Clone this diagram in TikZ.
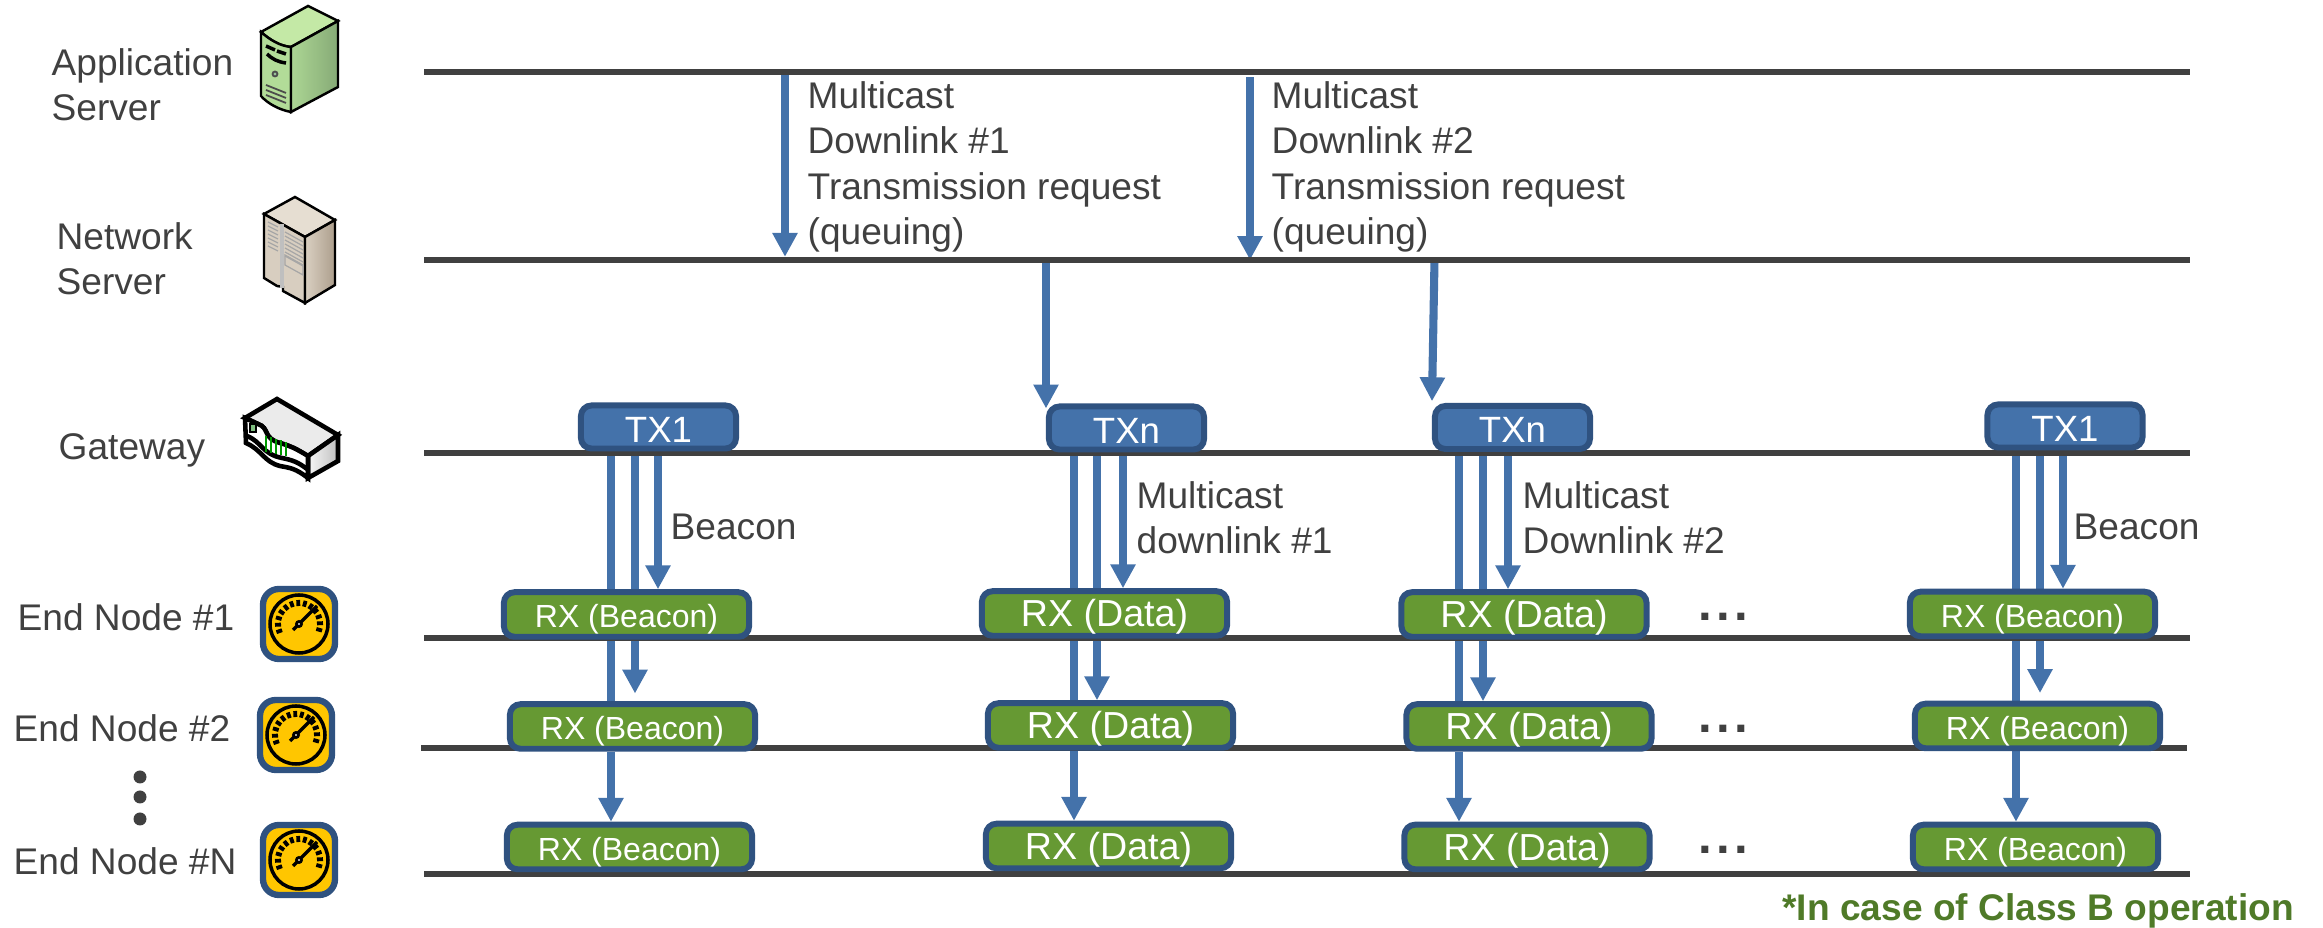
\documentclass[tikz,border=0pt]{standalone}
\usepackage{fontspec}
\setmainfont{Liberation Sans}
\usepackage{xcolor}
\usetikzlibrary{arrows.meta,backgrounds}
\definecolor{line_dark}{HTML}{404040}
\definecolor{sig_blue}{HTML}{4472AA}
\definecolor{box_border}{HTML}{2F5280}
\definecolor{rx_green}{HTML}{669933}
\definecolor{note_green}{HTML}{4F7A28}
\definecolor{gauge_yellow}{HTML}{FFC600}
\tikzset{
	lbl/.style={anchor=base west, align=left, inner sep=0pt, text=line_dark, font=\fontsize{10.55}{12.9}\selectfont},
	level/.style={line_dark, line width=1.8pt},
	sig/.style={sig_blue, line width=2.3pt},
	sigtip/.style={sig, -{Triangle[length=6.8pt,width=6.8pt]}},
	rxbox/.style={draw=box_border, fill=rx_green, line width=1.7pt, rounded corners=3pt, inner sep=0pt, text=white,
		minimum width=2.45cm, minimum height=0.445cm, text height=0.33cm, text depth=0.07cm, font=\fontsize{#1}{#1}\selectfont},
	txbox/.style={draw=box_border, fill=sig_blue, line width=1.7pt, rounded corners=3pt, inner sep=0pt, text=white,
		minimum width=1.55cm, minimum height=0.43cm, text height=0.35cm, text depth=0.05cm, font=\fontsize{10.4}{10.4}\selectfont},
	more/.style={anchor=base, inner sep=0pt, text=line_dark, font=\bfseries\fontsize{14}{14}\selectfont},
	gauge/.pic={
		\draw [box_border, fill=gauge_yellow, line width=1.8pt, rounded corners=4.5pt] (-36,-35) rectangle (36,35);
		\draw [black, line width=1pt] (0,0) circle (29);
		\foreach \a in {-200,-182,...,20} {
			\draw [black, line width=1.1pt] (\a:18) -- (\a:24);
		}
		\draw [black, line width=1pt] (-6,6) -- (18,-18);
		\draw [black, fill=white, line width=0.8pt] (0,0) circle (2.5);
	}
}
\begin{document}
\begin{tikzpicture}[x=0.01cm, y=-0.01cm]
	\useasboundingbox (0,0) rectangle (2323,928);

	\node [lbl] (appserver) at (51,121) {Application\\Server};
	\node [lbl] (netserver) at (56,294.5) {Network\\Server};
	\node [lbl] (gateway) at (58,459.5) {Gateway};
	\node [lbl] (endnode1) at (17,631) {End Node \#1};
	\node [lbl] (endnode2) at (13,741.5) {End Node \#2};
	\node [lbl] (endnodeN) at (13,875) {End Node \#N};
	\foreach \y in {777,797,819} {
		\fill [line_dark] (140,\y) circle (6.5);
	}

	\pic at (299,624) {gauge};
	\pic at (296,735) {gauge};
	\pic at (299,860) {gauge};

	% application server
	\draw [black, line width=0.7pt, fill={rgb,255:red,196;green,233;blue,166}] (261,32) -- (308,6) -- (338,21) -- (291,47) .. controls (280,46) and (270,40) .. (261,32) -- cycle;
	\draw [black, line width=0.7pt, fill={rgb,255:red,178;green,220;blue,152}] (261,32) .. controls (270,40) and (280,46) .. (291,47) -- (291,112) .. controls (280,110) and (268,104) .. (261,96) -- cycle;
	\draw [black, line width=0.7pt, left color={rgb,255:red,172;green,214;blue,148}, right color={rgb,255:red,134;green,170;blue,118}] (291,47) -- (338,21) -- (338,87) -- (291,112) -- cycle;
	\draw [black, line width=1pt] (266,46) -- (275,50) (277,51) -- (286,54) (267,54) .. controls (272,59) and (278,62) .. (286,63);
	\draw [black!70, fill=green!40!black!40, line width=0.5pt] (275,74) circle (2.5);
	\foreach \y in {85,90,95} {
		\draw [black!70, line width=0.5pt] (266,\y) -- (286,\y+8);
	}

	% network server
	\draw [black, line width=0.7pt, fill={rgb,255:red,230;green,222;blue,210}] (264,214) -- (295,197) -- (335,220) -- (305,237) -- cycle;
	\draw [black, line width=0.7pt, fill={rgb,255:red,216;green,206;blue,192}] (264,214) -- (305,237) -- (305,303) -- (283,291) -- (283,287) -- (277,286) -- (264,278) -- cycle;
	\draw [black, line width=0.7pt, left color={rgb,255:red,218;green,208;blue,194}, right color={rgb,255:red,172;green,158;blue,140}] (305,237) -- (335,220) -- (335,285) -- (305,303) -- cycle;
	\draw [black!25, line width=0.9pt] (282,224) -- (282,288);
	\foreach \y in {0,4,...,24} {
		\draw [black!35, line width=0.35pt] (268,222+\y) -- (278,227+\y);
		\draw [black!35, line width=0.35pt] (285,232+\y) -- (303,242+\y);
	}
	\draw [black!35, line width=0.35pt] (285,255) -- (303,265) -- (303,275) -- (285,265) -- cycle;

	% gateway
	\draw [black, line width=1.3pt, fill=black!8] (245,418) -- (277,399) -- (338,435) -- (308,456) .. controls (295,448) and (290,446) .. (280,443) .. controls (262,438) and (270,428) .. (258,424) -- cycle;
	\draw [black, line width=1.3pt, left color=black!3, right color=black!25] (308,456) -- (338,435) -- (338,461) -- (308,478) -- cycle;
	\draw [black, line width=1.3pt, fill=white] (245,418) -- (258,424) .. controls (270,428) and (262,438) .. (280,443) .. controls (290,446) and (295,448) .. (308,456) -- (308,478) .. controls (295,468) and (290,468) .. (280,466) .. controls (264,462) and (262,450) .. (246,443) -- cycle;
	\draw [black, line width=1.3pt] (247,436) .. controls (262,442) and (262,454) .. (282,458) .. controls (292,460) and (298,462) .. (307,469);
	\draw [black, fill=green!50!black!50, line width=0.6pt] (250,424) rectangle (256,432);
	\foreach \x in {0,5,10,15,20} {
		\draw [green!60!black, line width=0.7pt] (266+\x,436+0.3*\x) -- (266+\x,452+0.2*\x);
	}

	\foreach \col/\fs/\xa/\xb/\xc/\ya/\yb/\yc in {a/9.1/626.5/632.5/629.5/614.5/726.5/847, b/10.7/1104.5/1110.5/1108.5/613.5/725.5/846, c/10.7/1524/1529/1527/614.5/726.5/847, d/9.1/2032.5/2037.5/2035.5/614/726/847} {
		\ifdim\fs pt<10pt \def\lab{Beacon}\else \def\lab{Data}\fi
		\node [rxbox=\fs] (rx\col1) at (\xa,\ya) {RX (\lab)};
		\node [rxbox=\fs] (rx\col2) at (\xb,\yb) {RX (\lab)};
		\node [rxbox=\fs] (rx\col3) at (\xc,\yc) {RX (\lab)};
	}
	\node [txbox] (txa) at (658.5,427) {TX1};
	\node [txbox] (txb) at (1126.5,428) {TXn};
	\node [txbox] (txc) at (1512.5,427.5) {TXn};
	\node [txbox] (txd) at (2065,426) {TX1};

	\node [more] (morea) at (1723,621) {.\kern1.2pt.\kern1.2pt.};
	\node [more] (moreb) at (1723,733) {.\kern1.2pt.\kern1.2pt.};
	\node [more] (morec) at (1723,854) {.\kern1.2pt.\kern1.2pt.};

	\node [lbl] (reqa) at (807,244.5) {Multicast\\Downlink \#1\\Transmission request\\(queuing)};
	\node [lbl] (reqb) at (1271,244.5) {Multicast\\Downlink \#2\\Transmission request\\(queuing)};
	\node [lbl] (bcna) at (670,540) {Beacon};
	\node [lbl] (mcsa) at (1136,554) {Multicast\\downlink \#1};
	\node [lbl] (mcsb) at (1522,554) {Multicast\\Downlink \#2};
	\node [lbl] (bcnb) at (2073,540) {Beacon};
	\node [lbl, anchor=base east, text=note_green, font=\bfseries\fontsize{10.55}{12.9}\selectfont] (note) at (2294.5,920.5) {*In case of Class B operation};

	\foreach \name/\xl/\xr/\y in {as/424/2190/72, ns/424/2190/260, gw/424/2190/453, ena/424/2190/638, enb/421/2187/748, enn/424/2190/874} {
		\coordinate (\name l) at (\xl,\y);
		\coordinate (\name r) at (\xr,\y);
	}
	\foreach \name/\x in {dla/785, dlb/1250, qa/1046, qb/1434.5, xaa/611, xab/635, xac/658, xba/1074, xbb/1097, xbc/1123, xca/1459, xcb/1483, xcc/1508, xda/2016, xdb/2040, xdc/2063} {
		\coordinate (\name) at (\x,0);
	}

	\begin{pgfonlayer}{background}
		\draw [sigtip, shorten >=3pt*0.3] (asl -| dla) -- (nsl -| dla);
		\draw [sigtip, shorten <=1.5pt] (asl -| dlb) -- (nsl -| dlb);
		\draw [sigtip, shorten >=-1.4pt] (nsl -| qa) -- (txb.north -| qa);
		\draw [sigtip, shorten >=0.5pt] (nsl -| qb) -- (txc.north west);
		\foreach \col/\gap in {a/2.2pt, b/0pt, c/0pt, d/2.2pt} {
			\draw [sig] (tx\col.south -| x\col a) -- (rx\col1.north -| x\col a);
			\draw [sig] (rx\col1.south -| x\col a) -- (rx\col2.north -| x\col a);
			\draw [sigtip] (rx\col2.south -| x\col a) -- (rx\col3.north -| x\col a);
			\draw [sig] (tx\col.south -| x\col b) -- (rx\col1.north -| x\col b);
			\draw [sigtip, shorten >=\gap] (rx\col1.south -| x\col b) -- (rx\col2.north -| x\col b);
			\draw [sigtip] (tx\col.south -| x\col c) -- (rx\col1.north -| x\col c);
		}
		\foreach \name in {as,ns,gw,ena,enb,enn} {
			\draw [level] (\name l) -- (\name r);
		}
	\end{pgfonlayer}
\end{tikzpicture}
\end{document}
